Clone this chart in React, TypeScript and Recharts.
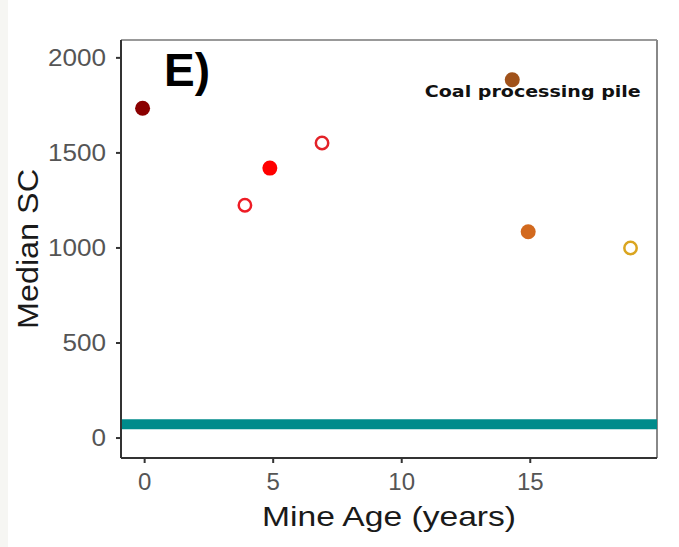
import { ScatterChart, Scatter, XAxis, YAxis, ReferenceLine, LabelList } from "recharts"

// mine age (years) and median SC for each site
const mineAge = [-0.08, 3.9, 4.87, 6.9, 14.3, 14.92, 18.9]
const medianSC = [1735, 1225, 1420, 1552, 1885, 1085, 1000]
const siteNames = ["Site A", "Site B", "Site C", "Site D", "Coal processing pile", "Site F", "Site G"]
const baselineSC = 73

const xTicks = [0, 5, 10, 15]
const yTicks = [0, 500, 1000, 1500, 2000]

const xDomain = [-0.92, 19.93]
const yDomain = [-105, 2094]

// marker styling per site (kept apart from the values)
const markerColor = ["#8b0000", "#ee1c25", "#ff0000", "#e32228", "#a0521a", "#d2691e", "#daa520"]
const markerOpen = [false, true, false, true, false, false, true]

const font = "'Liberation Sans', Arial, sans-serif"

const points = mineAge.map((age, i) => ({ age, sc: medianSC[i], name: siteNames[i] }))

function dot(color: string, open: boolean) {
  return (props: any) =>
    open ? (
      <circle cx={props.cx} cy={props.cy} r={6.2} fill="#fff" stroke={color} strokeWidth={2.5} />
    ) : (
      <circle cx={props.cx} cy={props.cy} r={7.5} fill={color} />
    )
}

const YTick = (props: any) => {
  const s = String(props.payload.value)
  return (
    <text
      x={props.x}
      y={props.y}
      textAnchor="end"
      dominantBaseline="central"
      fill="#555"
      fontSize={23}
      fontFamily={font}
      textLength={s.length * 14.5}
      lengthAdjust="spacingAndGlyphs"
    >
      {s}
    </text>
  )
}

export default function App() {
  return (
    <div style={{ position: "absolute", left: 0, top: 0, width: 679, height: 547, background: "#fff" }}>
      <div style={{ position: "absolute", left: 0, top: 0, width: 8, height: 547, background: "#f6f6f3" }} />
      <ScatterChart width={679} height={547} margin={{ top: 40, right: 22, left: 0, bottom: 0 }} style={{ position: "absolute", left: 0, top: 0 }}>
        <XAxis
          type="number"
          dataKey="age"
          domain={xDomain}
          ticks={xTicks}
          allowDataOverflow
          height={89}
          stroke="#333"
          strokeWidth={2}
          tickSize={5}
          tickMargin={10}
          tick={{ fill: "#555", fontSize: 24, fontFamily: font }}
          label={(lp: any) => (
            <text
              x={lp.viewBox.x + lp.viewBox.width / 2}
              y={526}
              textAnchor="middle"
              fill="#1a1a1a"
              fontSize={28}
              fontFamily={font}
              textLength={254}
              lengthAdjust="spacingAndGlyphs"
            >
              Mine Age (years)
            </text>
          )}
        />
        <YAxis
          type="number"
          dataKey="sc"
          domain={yDomain}
          ticks={yTicks}
          allowDataOverflow
          width={121}
          stroke="#333"
          strokeWidth={2}
          tickSize={5}
          tickMargin={10}
          tick={<YTick />}
          label={(lp: any) => {
            const cy = lp.viewBox.y + lp.viewBox.height / 2
            return (
              <text
                x={38}
                y={cy}
                transform={`rotate(-90 38 ${cy})`}
                textAnchor="middle"
                fill="#1a1a1a"
                fontSize={29}
                fontFamily={font}
                textLength={160}
                lengthAdjust="spacingAndGlyphs"
              >
                Median SC
              </text>
            )
          }}
        />
        <ReferenceLine y={yDomain[1]} stroke="#999" strokeWidth={2} />
        <ReferenceLine x={xDomain[1]} stroke="#888" strokeWidth={2} />
        <ReferenceLine y={baselineSC} stroke="#008b8b" strokeWidth={10} />
        {points.map((p, i) => (
          <Scatter
            key={p.name}
            data={[p]}
            isAnimationActive={false}
            shape={dot(markerColor[i], markerOpen[i])}
          >
            {p.name === "Coal processing pile" && (
              <LabelList
                dataKey="name"
                content={(lp: any) => (
                  <text
                    x={lp.x + 25}
                    y={lp.y + 22}
                    textAnchor="middle"
                    fontFamily="'DejaVu Sans', sans-serif"
                    fontWeight="bold"
                    fontSize={16}
                    fill="#111"
                    textLength={216}
                    lengthAdjust="spacingAndGlyphs"
                  >
                    {lp.value}
                  </text>
                )}
              />
            )}
          </Scatter>
        ))}
      </ScatterChart>
      <div
        style={{
          position: "absolute",
          left: 164,
          top: 47,
          fontFamily: font,
          fontWeight: "bold",
          fontSize: 46,
          lineHeight: "46px",
          color: "#000",
        }}
      >
        E)
      </div>
    </div>
  )
}
